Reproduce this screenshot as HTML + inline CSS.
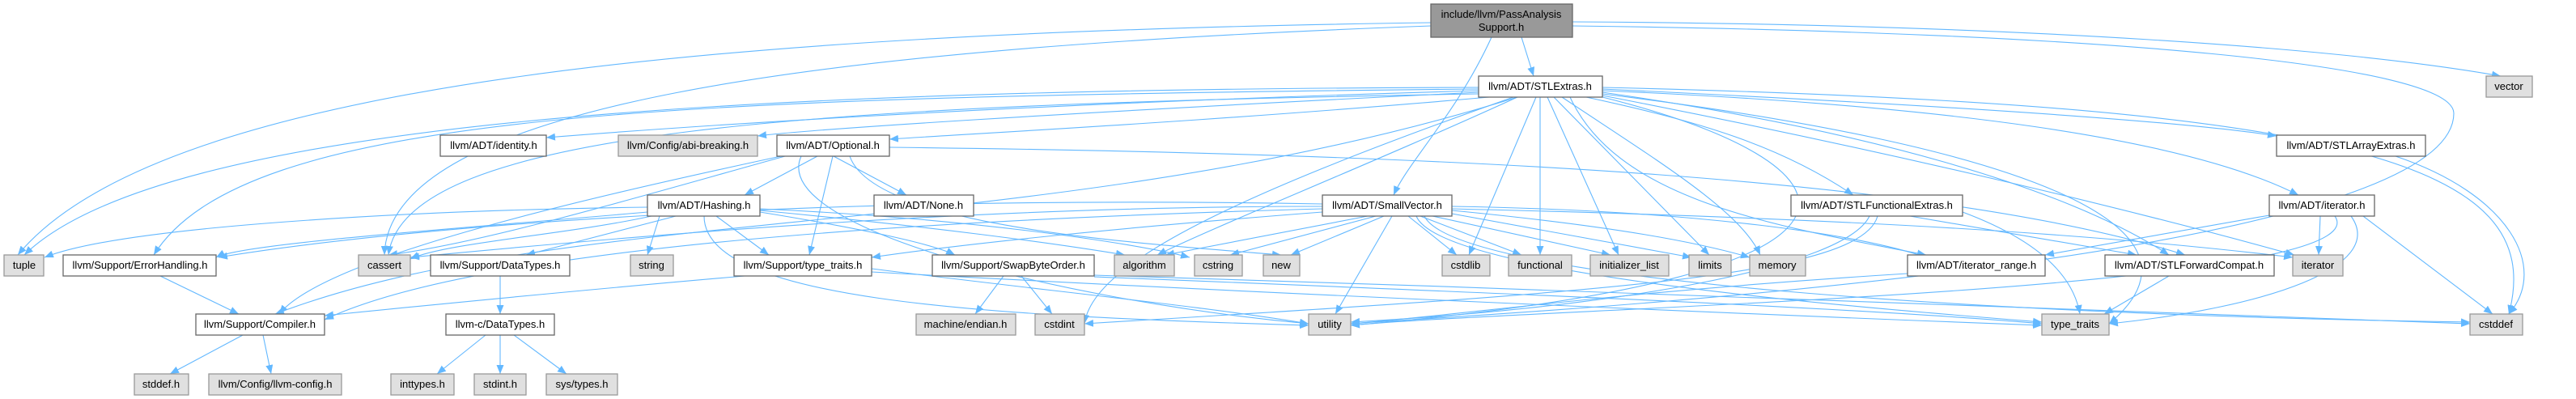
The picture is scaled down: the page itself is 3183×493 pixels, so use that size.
<!DOCTYPE html>
<html><head><meta charset="utf-8"><style>
html,body{margin:0;padding:0;background:#fff;}
svg{display:block;}
text{font-family:"Liberation Sans",Arial,sans-serif;font-size:13px;fill:#000;}
.n{fill:#fff;stroke:#666;stroke-width:1.3;}
.g{fill:#e0e0e0;stroke:#999;stroke-width:1.3;}
.t{fill:#999;stroke:#666;stroke-width:1.3;}
.e{fill:none;stroke:#63b8ff;stroke-width:1.1;marker-end:url(#a);}
</style></head><body>
<svg width="3183" height="493" viewBox="0 0 3183 493" xmlns="http://www.w3.org/2000/svg">
<defs><marker id="a" markerUnits="userSpaceOnUse" markerWidth="12" markerHeight="10" refX="11" refY="4.5" orient="auto"><path d="M0,0 L11,4.5 L0,9 z" fill="#63b8ff"/></marker></defs>
<g>
<!-- top -->
<path class="e" d="M1880,46 L1895,94"/>
<path class="e" d="M1843,46 C1800,140 1740,200 1722,241"/>
<path class="e" d="M1768,28 C900,40 200,100 22,315"/>
<path class="e" d="M1768,32 C1000,60 480,130 475,315"/>
<path class="e" d="M1943,27 C2500,30 2900,60 3090,94"/>
<path class="e" d="M1943,32 C2600,40 3032,80 3032,140 C3032,330 1800,390 1669,400"/>
<!-- STLExtras -->
<path class="e" d="M1827,112 C1200,130 800,160 675,170"/>
<path class="e" d="M1827,114 C1300,140 1000,160 936,168"/>
<path class="e" d="M1840,120 C1500,150 1200,165 1099,172"/>
<path class="e" d="M1827,108 C900,110 200,150 30,315"/>
<path class="e" d="M1827,110 C800,120 300,140 190,315"/>
<path class="e" d="M1827,116 C1000,130 500,160 480,315"/>
<path class="e" d="M1875,120 C1300,300 700,250 340,388"/>
<path class="e" d="M1875,120 C1700,200 1500,280 1430,315"/>
<path class="e" d="M1898,120 L1815,315"/>
<path class="e" d="M1903,120 L1903,315"/>
<path class="e" d="M1912,120 L2000,315"/>
<path class="e" d="M1920,120 L2112,315"/>
<path class="e" d="M1930,120 C2050,200 2150,260 2175,315"/>
<path class="e" d="M1960,120 C2100,150 2200,180 2290,241"/>
<path class="e" d="M1940,120 C2000,250 2200,280 2380,315"/>
<path class="e" d="M1980,114 C2300,160 2550,230 2680,315"/>
<path class="e" d="M1980,118 C2300,180 2600,250 2835,315"/>
<path class="e" d="M1980,112 C2400,130 2700,170 2840,241"/>
<path class="e" d="M1980,110 C2400,130 2700,150 2813,168"/>
<path class="e" d="M1980,108 C2900,130 3150,200 3100,388"/>
<path class="e" d="M1980,116 C2500,180 2750,280 2606,400"/>
<path class="e" d="M1980,120 C2300,200 2400,340 1669,402"/>
<path class="e" d="M1870,120 C1500,250 1350,330 1340,400"/>
<!-- Optional -->
<path class="e" d="M1010,193 L920,241"/>
<path class="e" d="M1030,193 L1120,241"/>
<path class="e" d="M1029,193 L1000,315"/>
<path class="e" d="M965,193 C700,250 400,320 345,388"/>
<path class="e" d="M970,193 C800,240 600,300 480,315"/>
<path class="e" d="M1099,182 C1800,190 2400,220 2700,315"/>
<path class="e" d="M1050,193 C1080,280 1400,300 1583,315"/>
<path class="e" d="M990,193 C950,280 1300,370 1617,400"/>
<!-- Hashing -->
<path class="e" d="M800,256 C500,260 150,280 55,318"/>
<path class="e" d="M800,262 C600,280 300,300 267,318"/>
<path class="e" d="M805,267 C700,290 550,300 507,320"/>
<path class="e" d="M835,267 L650,315"/>
<path class="e" d="M815,267 L800,315"/>
<path class="e" d="M885,267 L950,315"/>
<path class="e" d="M939,262 C1050,280 1150,300 1180,315"/>
<path class="e" d="M939,260 C1150,280 1300,300 1390,315"/>
<path class="e" d="M939,258 C1200,270 1400,300 1470,318"/>
<path class="e" d="M870,267 C870,370 1200,390 1617,402"/>
<!-- SmallVector -->
<path class="e" d="M1634,258 C1200,270 600,300 401,395"/>
<path class="e" d="M1634,262 C1400,280 1200,300 1077,318"/>
<path class="e" d="M1690,267 L1440,315"/>
<path class="e" d="M1634,255 C1200,255 800,290 507,318"/>
<path class="e" d="M1700,267 L1520,315"/>
<path class="e" d="M1710,267 L1595,315"/>
<path class="e" d="M1740,267 L1800,315"/>
<path class="e" d="M1755,267 L1880,315"/>
<path class="e" d="M1770,267 L1990,315"/>
<path class="e" d="M1794,264 L2090,318"/>
<path class="e" d="M1794,260 C2000,280 2100,300 2162,318"/>
<path class="e" d="M1794,258 C2300,270 2600,290 2833,318"/>
<path class="e" d="M1760,267 C1800,350 2500,390 3052,398"/>
<path class="e" d="M1750,267 C1780,340 2300,380 2523,398"/>
<path class="e" d="M1720,267 L1650,388"/>
<path class="e" d="M1634,252 C1000,240 500,280 270,318"/>
<path class="e" d="M1794,255 C2100,260 2300,290 2380,318"/>
<!-- SwapByteOrder -->
<path class="e" d="M1240,341 L1205,388"/>
<path class="e" d="M1262,341 L1300,388"/>
<path class="e" d="M1352,342 C1800,360 2300,380 2523,400"/>
<path class="e" d="M1352,340 C2000,360 2800,390 3052,400"/>
<!-- Support/type_traits -->
<path class="e" d="M1077,336 C1500,360 2200,390 2523,402"/>
<path class="e" d="M1077,332 C1300,360 1500,380 1617,400"/>
<path class="e" d="M920,341 C700,360 500,380 401,390"/>
<!-- small -->
<path class="e" d="M618,341 L618,388"/>
<path class="e" d="M600,414 L540,462"/>
<path class="e" d="M618,414 L618,462"/>
<path class="e" d="M635,414 L700,462"/>
<path class="e" d="M300,414 L210,462"/>
<path class="e" d="M325,414 L335,462"/>
<path class="e" d="M198,341 L295,388"/>
<!-- STLFunctionalExtras -->
<path class="e" d="M2360,267 L2640,315"/>
<path class="e" d="M2425,262 C2500,290 2560,330 2570,388"/>
<path class="e" d="M2320,267 C2300,340 2000,360 1340,400"/>
<path class="e" d="M2310,267 C2280,330 2000,380 1669,398"/>
<!-- others -->
<path class="e" d="M2357,338 C2000,360 1800,390 1669,400"/>
<path class="e" d="M2680,341 L2600,388"/>
<path class="e" d="M2804,266 L2527,315"/>
<path class="e" d="M2867,267 L2865,315"/>
<path class="e" d="M2920,267 L3080,388"/>
<path class="e" d="M2905,267 C2950,330 2800,380 2606,400"/>
<path class="e" d="M2885,267 C2950,360 1900,380 1669,402"/>
<path class="e" d="M2960,193 C3100,240 3150,330 3100,388"/>
</g>
<g text-anchor="middle">
<rect class="t" x="1768" y="5" width="175" height="41"/><text x="1855" y="22">include/llvm/PassAnalysis</text><text x="1855" y="38">Support.h</text>
<rect class="n" x="1827" y="94" width="153" height="26"/><text x="1903" y="111">llvm/ADT/STLExtras.h</text>
<rect class="g" x="3072" y="94" width="57" height="26"/><text x="3100" y="111">vector</text>
<rect class="n" x="544" y="167" width="131" height="26"/><text x="610" y="184">llvm/ADT/identity.h</text>
<rect class="g" x="764" y="167" width="172" height="26"/><text x="850" y="184">llvm/Config/abi-breaking.h</text>
<rect class="n" x="960" y="167" width="139" height="26"/><text x="1029" y="184">llvm/ADT/Optional.h</text>
<rect class="n" x="2813" y="167" width="184" height="26"/><text x="2905" y="184">llvm/ADT/STLArrayExtras.h</text>
<rect class="n" x="800" y="241" width="139" height="26"/><text x="870" y="258">llvm/ADT/Hashing.h</text>
<rect class="n" x="1080" y="241" width="123" height="26"/><text x="1141" y="258">llvm/ADT/None.h</text>
<rect class="n" x="1634" y="241" width="160" height="26"/><text x="1714" y="258">llvm/ADT/SmallVector.h</text>
<rect class="n" x="2213" y="241" width="212" height="26"/><text x="2319" y="258">llvm/ADT/STLFunctionalExtras.h</text>
<rect class="n" x="2804" y="241" width="130" height="26"/><text x="2869" y="258">llvm/ADT/iterator.h</text>
<rect class="g" x="5" y="315" width="49" height="26"/><text x="30" y="332">tuple</text>
<rect class="n" x="78" y="315" width="189" height="26"/><text x="173" y="332">llvm/Support/ErrorHandling.h</text>
<rect class="g" x="443" y="315" width="64" height="26"/><text x="475" y="332">cassert</text>
<rect class="n" x="532" y="315" width="172" height="26"/><text x="618" y="332">llvm/Support/DataTypes.h</text>
<rect class="g" x="779" y="315" width="53" height="26"/><text x="805" y="332">string</text>
<rect class="n" x="907" y="315" width="170" height="26"/><text x="992" y="332">llvm/Support/type_traits.h</text>
<rect class="n" x="1152" y="315" width="200" height="26"/><text x="1252" y="332">llvm/Support/SwapByteOrder.h</text>
<rect class="g" x="1377" y="315" width="74" height="26"/><text x="1414" y="332">algorithm</text>
<rect class="g" x="1476" y="315" width="59" height="26"/><text x="1505" y="332">cstring</text>
<rect class="g" x="1561" y="315" width="45" height="26"/><text x="1583" y="332">new</text>
<rect class="g" x="1782" y="315" width="59" height="26"/><text x="1811" y="332">cstdlib</text>
<rect class="g" x="1864" y="315" width="78" height="26"/><text x="1903" y="332">functional</text>
<rect class="g" x="1965" y="315" width="97" height="26"/><text x="2013" y="332">initializer_list</text>
<rect class="g" x="2087" y="315" width="52" height="26"/><text x="2113" y="332">limits</text>
<rect class="g" x="2162" y="315" width="69" height="26"/><text x="2196" y="332">memory</text>
<rect class="n" x="2357" y="315" width="170" height="26"/><text x="2442" y="332">llvm/ADT/iterator_range.h</text>
<rect class="n" x="2601" y="315" width="209" height="26"/><text x="2705" y="332">llvm/ADT/STLForwardCompat.h</text>
<rect class="g" x="2833" y="315" width="62" height="26"/><text x="2864" y="332">iterator</text>
<rect class="n" x="242" y="388" width="159" height="26"/><text x="321" y="405">llvm/Support/Compiler.h</text>
<rect class="n" x="551" y="388" width="134" height="26"/><text x="618" y="405">llvm-c/DataTypes.h</text>
<rect class="g" x="1132" y="388" width="123" height="26"/><text x="1193" y="405">machine/endian.h</text>
<rect class="g" x="1279" y="388" width="61" height="26"/><text x="1309" y="405">cstdint</text>
<rect class="g" x="1617" y="388" width="52" height="26"/><text x="1643" y="405">utility</text>
<rect class="g" x="2523" y="388" width="83" height="26"/><text x="2564" y="405">type_traits</text>
<rect class="g" x="3052" y="388" width="65" height="26"/><text x="3084" y="405">cstddef</text>
<rect class="g" x="166" y="462" width="67" height="26"/><text x="199" y="479">stddef.h</text>
<rect class="g" x="258" y="462" width="164" height="26"/><text x="340" y="479">llvm/Config/llvm-config.h</text>
<rect class="g" x="483" y="462" width="78" height="26"/><text x="522" y="479">inttypes.h</text>
<rect class="g" x="586" y="462" width="64" height="26"/><text x="618" y="479">stdint.h</text>
<rect class="g" x="675" y="462" width="88" height="26"/><text x="719" y="479">sys/types.h</text>
</g>
</svg>
</body></html>
